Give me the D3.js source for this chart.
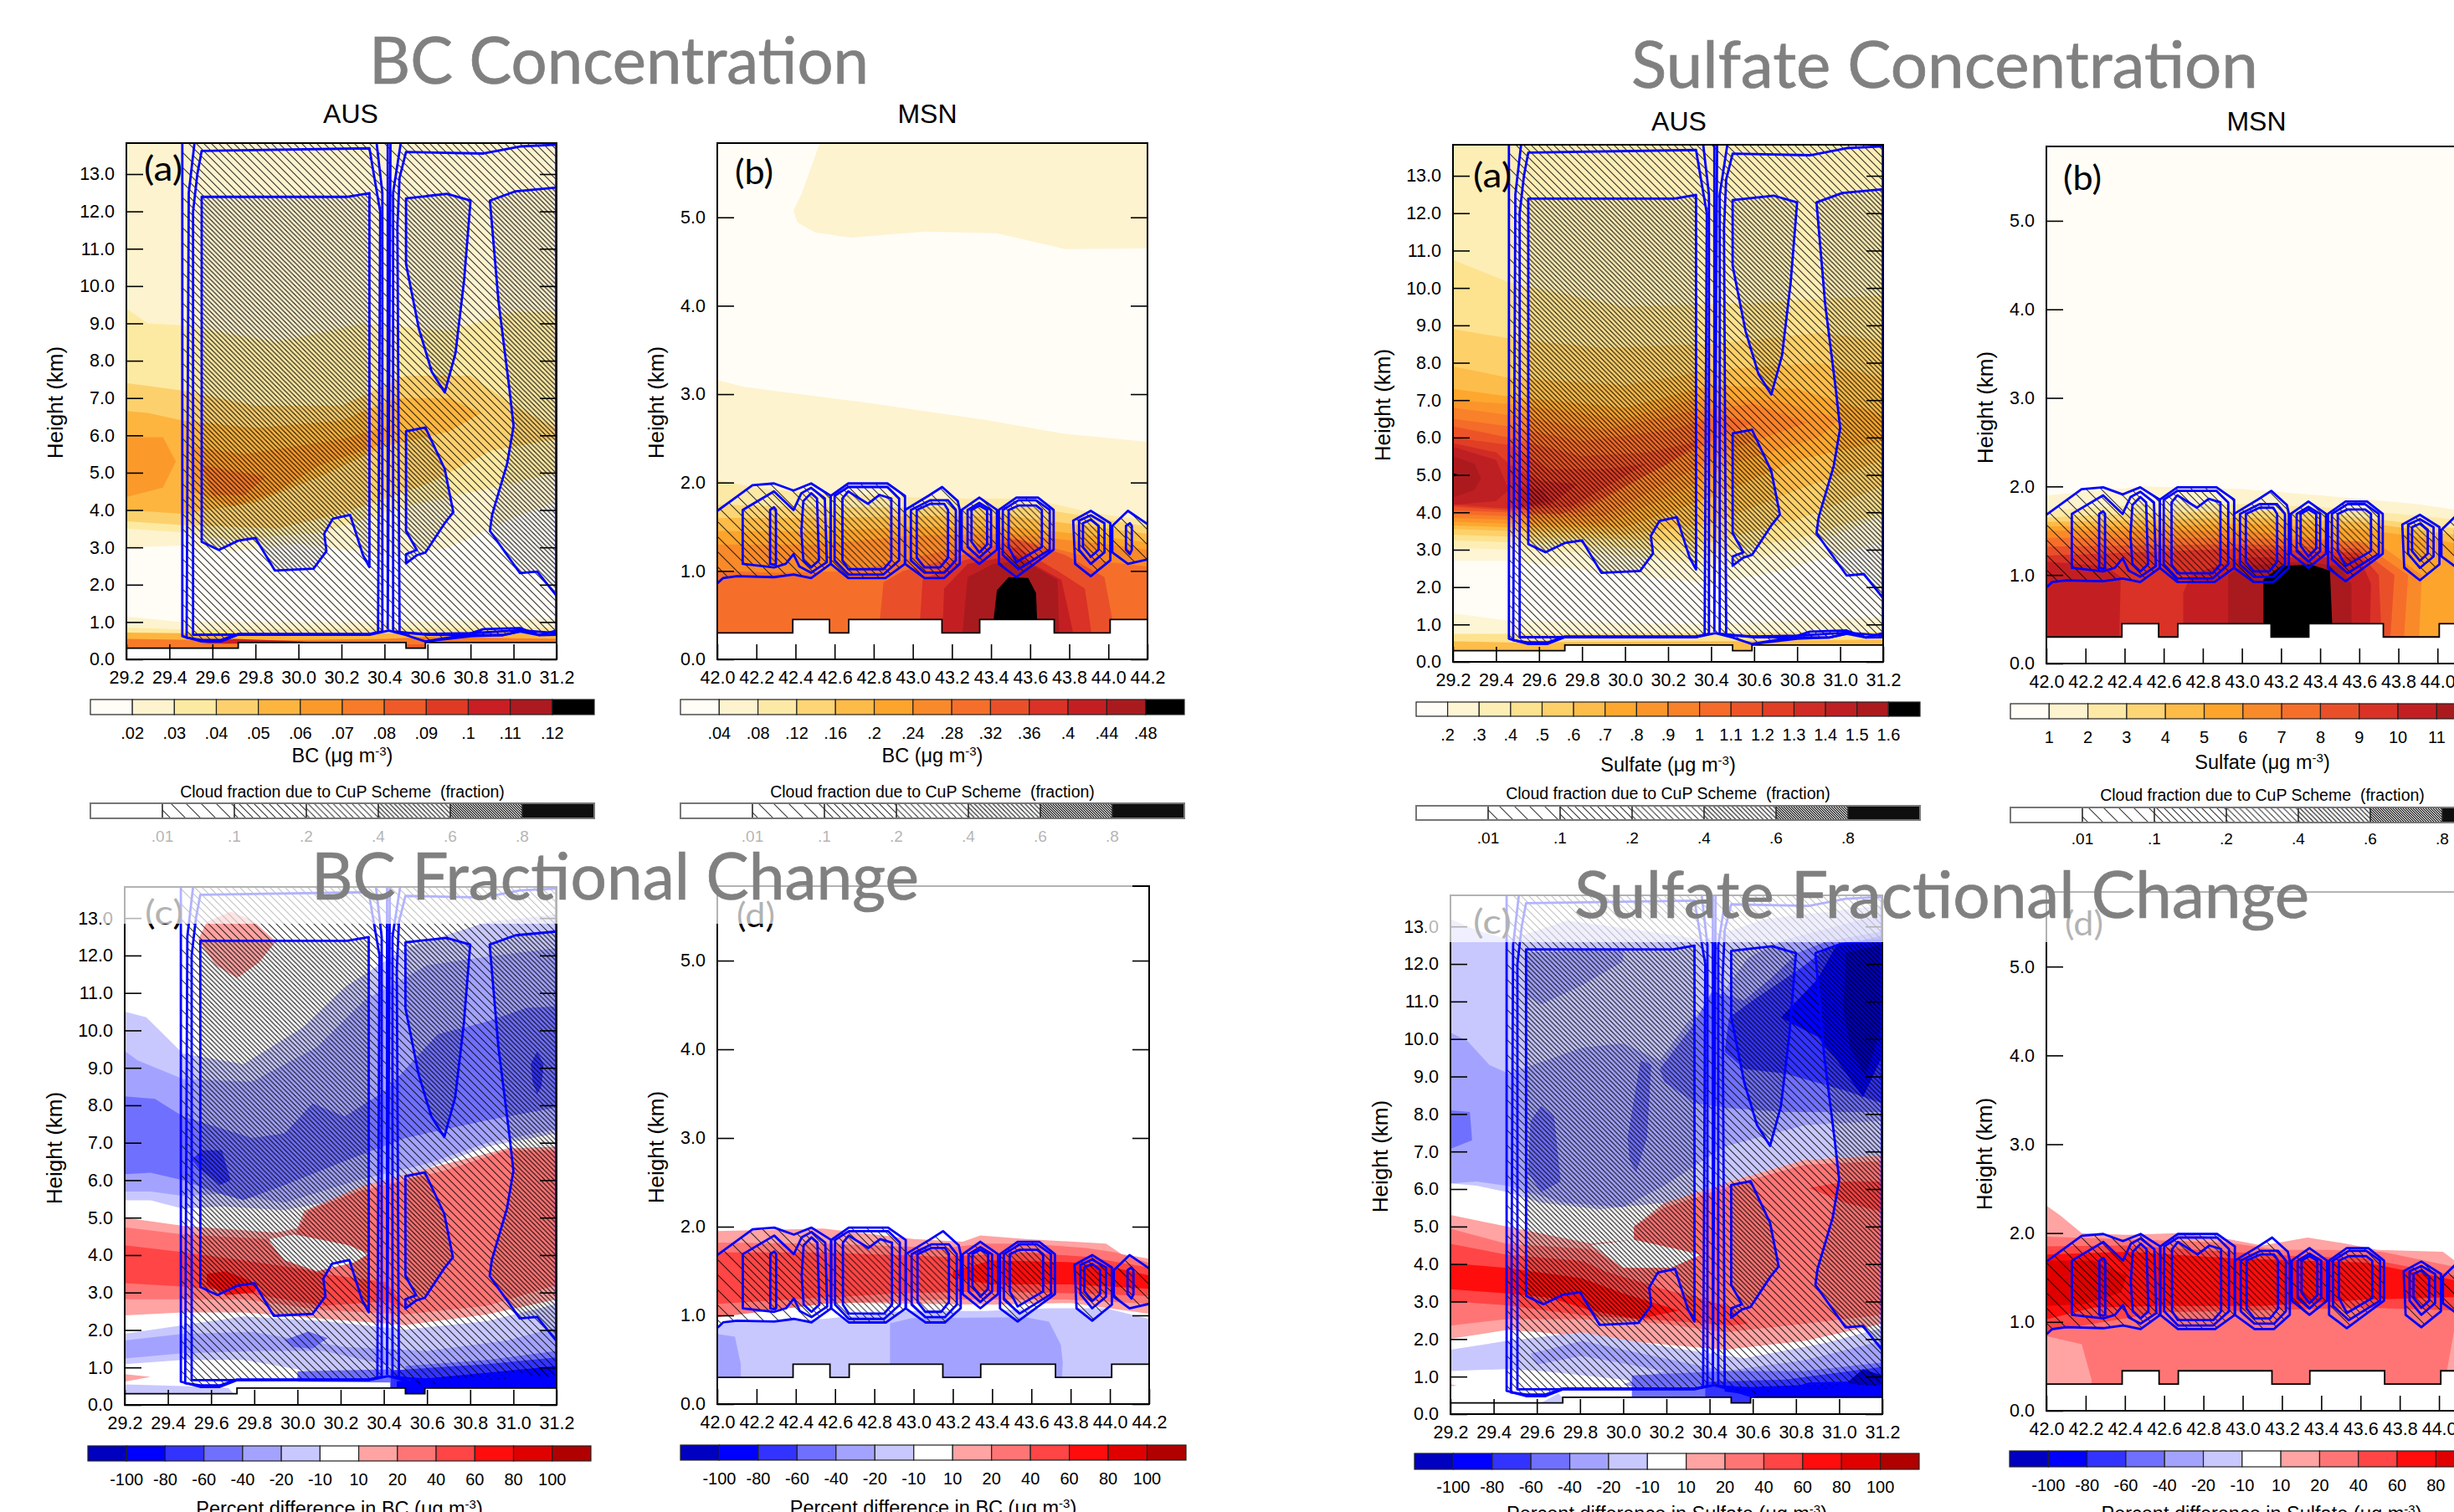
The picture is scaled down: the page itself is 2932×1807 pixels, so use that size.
<!DOCTYPE html>
<html>
<head>
<meta charset="utf-8">
<script src="https://d3js.org/d3.v7.min.js"></script>
<style>
  body { margin: 0; background: #fff; }
  text { font-family: "Liberation Sans", Arial, sans-serif; fill: #000; }
</style>
</head>
<body>
<script>
// tick values
const lonAus = [29.2, 29.4, 29.6, 29.8, 30.0, 30.2, 30.4, 30.6, 30.8, 31.0, 31.2];
const lonMsn = [42.0, 42.2, 42.4, 42.6, 42.8, 43.0, 43.2, 43.4, 43.6, 43.8, 44.0, 44.2];
const kmAus = [0, 1, 2, 3, 4, 5, 6, 7, 8, 9, 10, 11, 12, 13];
const kmMsn = [0, 1, 2, 3, 4, 5];

// colour bar labels
const bcAusLabels = [".02", ".03", ".04", ".05", ".06", ".07", ".08", ".09", ".1", ".11", ".12"];
const bcMsnLabels = [".04", ".08", ".12", ".16", ".2", ".24", ".28", ".32", ".36", ".4", ".44", ".48"];
const suAusLabels = [".2", ".3", ".4", ".5", ".6", ".7", ".8", ".9", "1", "1.1", "1.2", "1.3", "1.4", "1.5", "1.6"];
const suMsnLabels = ["1", "2", "3", "4", "5", "6", "7", "8", "9", "10", "11", "12"];
const pctLabels = ["-100", "-80", "-60", "-40", "-20", "-10", "10", "20", "40", "60", "80", "100"];
const cloudLabels = [".01", ".1", ".2", ".4", ".6", ".8"];

// colours
const seq12 = ["#fffdf6", "#fef3cf", "#fdeaa2", "#fdd06e", "#fdb53f", "#fb9a2b", "#f77b28", "#f05a28", "#df3a24", "#c91e23", "#ac1920", "#000000"];
const seq13 = ["#fffdf6", "#fef3cf", "#fde9a6", "#fdd575", "#fdbb48", "#fda42c", "#f98a2a", "#f66f2a", "#e9502a", "#da3226", "#c31f23", "#a91a1e", "#000000"];
const seq16 = ["#fffdf6", "#fef5d5", "#fdeeb6", "#fde28f", "#fdd069", "#fdbd4a", "#fda72e", "#fb952b", "#f98129", "#f56b29", "#ec5428", "#e03e25", "#d02b24", "#be1f23", "#ac1a1e", "#000000"];
const div13 = ["#0000c0", "#0000ff", "#3333ff", "#7070ff", "#a3a3ff", "#c8c8ff", "#ffffff", "#ffa3a3", "#ff7575", "#ff4545", "#ff0d0d", "#e00000", "#b00000"];
const hatchGaps = [0, 18, 9, 7.5, 5.5, 3, 2];

// terrain steps (lon, km)
const terrainAus = [[29.2,.3],[29.72,.3],[29.72,.45],[30.5,.45],[30.5,.3],[30.59,.3],[30.59,.45],[31.2,.45]];
const terrainMsn = [[42,.3],[42.386,.3],[42.386,.45],[42.574,.45],[42.574,.3],[42.672,.3],[42.672,.45],[43.149,.45],[43.149,.3],[43.342,.3],[43.342,.45],[43.723,.45],[43.723,.3],[44.009,.3],[44.009,.45],[44.2,.45]];

// cloud fraction contours, AUS section (lon, km)
const ausOuter = [[29.46,14],[29.46,.62],[29.55,.48],[29.64,.48],[29.72,.66],[30.33,.66],[30.42,.77],[30.5,.65],[30.59,.48],[30.78,.66],[30.86,.81],[31.03,.84],[31.12,.65],[31.2,.77],[31.2,14]];
const ausL2 = [[29.52,14],[29.49,12.5],[29.48,.58],[29.55,.52],[29.64,.52],[29.72,.68],[30.33,.68],[30.39,.75],[30.39,12.5],[30.36,14]];
const ausR2 = [[30.48,14],[30.44,12.5],[30.44,.75],[30.6,.66],[30.95,.65],[31.03,.75],[31.12,.65],[31.2,.66],[31.2,14]];
const ausBoxL = [[29.55,13.62],[29.53,13],[29.51,12],[29.51,.66],[30.33,.67],[30.37,.72],[30.38,12],[30.35,13],[30.33,13.69]];
const ausBoxR = [[30.5,13.59],[30.47,12.9],[30.46,11.6],[30.47,.72],[30.6,.68],[30.8,.7],[31.03,.78],[31.2,.7],[31.2,13.79],[31.03,13.74],[30.86,13.55]];
const ausInner = [[29.55,12.39],[30.23,12.39],[30.33,12.49],[30.33,2.47],[30.3,2.79],[30.24,3.87],[30.16,3.77],[30.12,3.37],[30.13,2.9],[30.07,2.43],[29.89,2.38],[29.8,3.25],[29.72,3.18],[29.63,2.93],[29.55,3.15]];
const ausLobeTop = [[30.5,12.35],[30.69,12.47],[30.8,12.29],[30.77,10.15],[30.73,8.2],[30.68,7.15],[30.62,7.7],[30.56,8.85],[30.5,10.59]];
const ausLobeLow = [[30.5,6.11],[30.59,6.21],[30.68,5.1],[30.72,3.94],[30.68,3.65],[30.59,2.86],[30.55,2.79],[30.5,2.57],[30.5,2.82],[30.55,2.93],[30.5,3.44]];
const ausInnerR = [[30.89,12.29],[31.01,12.54],[31.2,12.64],[31.2,1.7],[31.11,2.35],[31.03,2.31],[30.89,3.44],[30.9,3.87],[30.97,5.24],[31,6.25],[30.98,7.27],[30.93,9.58]];
const ausSpike = [[30.415,14],[30.415,.8],[30.428,14]];
const ausLow = [[30.59,.48],[30.8,.62],[30.95,.65],[31.03,.75]];

// cloud fraction contours, MSN section (lon, km)
const c1Out = [[42,1.68],[42.18,1.97],[42.29,1.99],[42.39,1.91],[42.48,1.99],[42.58,1.85],[42.58,1.08],[42.48,.92],[42.39,.96],[42.29,.93],[42.1,.94],[42.03,.92],[42,.86],[41.9,.86],[41.9,1.68]];
const c1Mid = [[42.13,1.69],[42.29,1.9],[42.39,1.69],[42.43,1.88],[42.48,1.94],[42.55,1.82],[42.56,1.1],[42.48,.98],[42.42,1.05],[42.39,1.19],[42.35,1.08],[42.29,1.04],[42.13,1.08]];
const c1Lobe = [[42.44,1.79],[42.48,1.88],[42.51,1.82],[42.52,1.12],[42.48,1.04],[42.44,1.12],[42.43,1.45]];
const c1Small = [[42.27,1.69],[42.29,1.72],[42.3,1.69],[42.3,1.08],[42.29,1.07],[42.27,1.08]];
const c2Out = [[42.58,1.85],[42.67,1.99],[42.87,1.99],[42.96,1.85],[42.96,1.08],[42.86,.92],[42.67,.92],[42.58,1.08]];
const c2Mid = [[42.6,1.85],[42.67,1.95],[42.87,1.95],[42.93,1.82],[42.93,1.12],[42.85,.96],[42.67,.96],[42.6,1.12]];
const c2In = [[42.64,1.82],[42.67,1.9],[42.77,1.76],[42.83,1.86],[42.89,1.82],[42.89,1.12],[42.85,1.02],[42.67,1.02],[42.64,1.12]];
const c3Out = [[42.96,1.69],[43.08,1.85],[43.15,1.95],[43.23,1.79],[43.24,1.69],[43.24,1.08],[43.16,.92],[43.06,.92],[42.96,1.08]];
const c3Mid = [[42.99,1.69],[43.09,1.8],[43.18,1.8],[43.22,1.69],[43.22,1.12],[43.16,.98],[43.06,.98],[42.99,1.12]];
const c3In = [[43.02,1.69],[43.09,1.76],[43.16,1.76],[43.18,1.69],[43.18,1.15],[43.14,1.04],[43.06,1.04],[43.02,1.15]];
const c4Out = [[43.25,1.69],[43.34,1.83],[43.43,1.69],[43.43,1.24],[43.34,1.08],[43.25,1.24]];
const c4Mid = [[43.28,1.69],[43.34,1.77],[43.4,1.69],[43.4,1.27],[43.34,1.15],[43.28,1.27]];
const c4In = [[43.3,1.69],[43.34,1.74],[43.38,1.69],[43.38,1.3],[43.34,1.21],[43.3,1.33]];
const c5Out = [[43.44,1.69],[43.53,1.83],[43.64,1.83],[43.72,1.69],[43.72,1.24],[43.53,.93],[43.44,1.08]];
const c5Mid = [[43.46,1.69],[43.54,1.8],[43.63,1.8],[43.7,1.69],[43.7,1.24],[43.54,1.02],[43.46,1.18]];
const c5In = [[43.49,1.69],[43.54,1.74],[43.63,1.74],[43.66,1.69],[43.66,1.27],[43.53,1.1],[43.49,1.27]];
const c6Out = [[43.82,1.57],[43.91,1.68],[44.01,1.54],[44.01,1.12],[43.91,.94],[43.83,1.08]];
const c6Mid = [[43.85,1.57],[43.91,1.63],[43.98,1.54],[43.98,1.21],[43.91,1.08],[43.85,1.24]];
const c6In = [[43.87,1.54],[43.91,1.58],[43.95,1.51],[43.95,1.24],[43.91,1.16],[43.87,1.27]];
const c7Out = [[44.02,1.51],[44.1,1.68],[44.2,1.53],[44.3,1.5],[44.3,1.1],[44.2,1.13],[44.1,1.08],[44.02,1.21]];
const c7Small = [[44.09,1.51],[44.11,1.54],[44.12,1.51],[44.12,1.24],[44.11,1.19],[44.09,1.24]];

// filled contours, [colour bin, polygon in (lon, km)]
const bcAusFill = [
  [1, [[29.2,0],[31.2,0],[31.2,14],[29.2,14]]],
  [0, [[29.2,3],[29.46,3.05],[29.7,2.9],[30,3.1],[30.4,2.8],[30.7,3],[31,3.8],[31.2,4.2],[31.2,1.1],[30.5,1],[29.46,1],[29.2,1.15]]],
  [2, [[29.2,9.4],[29.3,9],[29.46,8.95],[29.9,8.5],[30.3,9],[30.7,8.8],[31,9.3],[31.2,9.3],[31.2,5],[30.9,4.6],[30.5,4.1],[30.1,3.4],[29.7,3.2],[29.46,3.4],[29.2,3.5]]],
  [3, [[29.2,7.4],[29.46,7.2],[29.8,6.8],[30.2,6.8],[30.5,7.6],[30.8,7.6],[31,6.8],[31.2,6.2],[31.2,5.9],[30.9,5.6],[30.6,4.7],[30.2,3.9],[29.9,3.5],[29.46,3.6],[29.2,3.7]]],
  [4, [[29.2,6.65],[29.3,6.6],[29.46,6.4],[29.8,6.2],[30.2,6.4],[30.45,7],[30.7,7],[30.85,6.6],[30.7,6.1],[30.4,5.7],[30.1,4.9],[29.8,4.2],[29.46,3.9],[29.2,4]]],
  [5, [[29.2,5.95],[29.37,5.95],[29.43,5.3],[29.37,4.6],[29.2,4.35]]],
  [5, [[29.5,5.7],[29.75,5.5],[30.2,5.9],[30.45,6.3],[30.4,5.8],[30.1,5.2],[29.9,4.5],[29.7,4.1],[29.5,4.5]]],
  [6, [[29.55,5.2],[29.75,5],[29.85,4.9],[29.75,4.4],[29.6,4.4]]],
  [1, [[29.2,1.05],[29.46,1],[31.2,.95],[31.2,0],[29.2,0]]],
  [2, [[29.2,.85],[29.46,.8],[31.2,.85],[31.2,0],[29.2,0]]],
  [4, [[29.2,.72],[29.46,.7],[30.4,.7],[31.2,.75],[31.2,0],[29.2,0]]],
  [6, [[29.2,.55],[29.5,.52],[29.7,.5],[30.4,.55],[30.6,.6],[31.2,.55],[31.2,0],[29.2,0]]],
  [9, [[29.55,.42],[29.7,.55],[29.95,.5],[30.2,.42]]],
  [7, [[30.5,.4],[30.59,.4],[30.59,.2],[30.5,.2]]]
];
const bcMsnFill = [
  [0, [[42,0],[44.2,0],[44.2,6],[42,6]]],
  [1, [[42.55,6],[42.43,5.26],[42.39,5.08],[42.41,4.94],[42.5,4.83],[42.68,4.77],[43.06,4.84],[43.43,4.82],[43.78,4.64],[44.2,4.65],[44.2,6]]],
  [1, [[42,3.16],[42.14,3.08],[42.74,2.91],[43.37,2.71],[43.78,2.55],[44.2,2.46],[44.2,0],[42,0]]],
  [2, [[42,2.03],[42.2,1.94],[42.5,1.88],[43.16,1.82],[43.6,1.82],[43.91,1.66],[44.2,1.57],[44.2,0],[42,0]]],
  [3, [[42,1.75],[42.5,1.72],[43,1.72],[43.6,1.72],[44,1.58],[44.2,1.5],[44.2,0],[42,0]]],
  [4, [[42,1.6],[42.5,1.6],[43,1.62],[43.5,1.62],[44,1.48],[44.2,1.42],[44.2,0],[42,0]]],
  [5, [[42,1.45],[42.5,1.45],[43,1.5],[43.5,1.5],[44,1.38],[44.2,1.32],[44.2,0],[42,0]]],
  [6, [[42,1.3],[42.5,1.3],[43,1.4],[43.5,1.42],[44,1.3],[44.2,1.24],[44.2,0],[42,0]]],
  [7, [[42,1],[42.3,.98],[42.7,1],[43,1.15],[43.5,1.38],[44,1.1],[44.2,1.05],[44.2,0],[42,0]]],
  [8, [[42.82,.2],[42.85,.87],[42.95,1],[43.16,1.12],[43.53,1.36],[43.78,1.18],[43.98,.93],[44.02,.46],[44.02,.2]]],
  [9, [[43.03,.2],[43.05,.9],[43.26,1.12],[43.53,1.27],[43.74,1],[43.88,.8],[43.92,.2]]],
  [10, [[43.15,.2],[43.16,.8],[43.28,1.08],[43.53,1.18],[43.76,.9],[43.83,.2]]],
  [11, [[43.25,.2],[43.28,.93],[43.41,1.08],[43.57,1.12],[43.74,.9],[43.75,.2]]],
  [12, [[43.4,.2],[43.43,.78],[43.49,.93],[43.59,.92],[43.63,.75],[43.64,.2]]]
];
const suAusFill = [
  [2, [[29.2,0],[31.2,0],[31.2,14],[29.2,14]]],
  [1, [[29.2,3.05],[29.46,3],[29.9,2.9],[30.4,2.6],[30.8,3],[31.2,3.9],[31.2,1],[30.4,.85],[29.46,.9],[29.2,1.05]]],
  [0, [[29.2,2.7],[29.46,2.7],[29.9,2.4],[30.4,2.1],[30.7,2.4],[31,2.9],[31.2,3.2],[31.2,1.2],[30.4,1],[29.46,1.1],[29.2,1.3]]],
  [3, [[29.2,10.75],[29.46,10.15],[30,9.5],[30.6,9.6],[31.2,9.8],[31.2,4],[30.8,3.3],[30.4,2.9],[29.9,3.1],[29.46,3.2],[29.2,3.25]]],
  [4, [[29.2,8.9],[29.46,8.65],[29.9,8.4],[30.4,8.5],[30.9,8.8],[31.2,8.6],[31.2,4.7],[30.8,3.8],[30.4,3.2],[29.9,3.3],[29.46,3.35],[29.2,3.4]]],
  [5, [[29.2,7.9],[29.46,7.6],[30,7.4],[30.4,7.8],[30.9,8],[31.2,7.6],[31.2,5.4],[30.8,4.6],[30.4,3.7],[30,3.4],[29.46,3.5],[29.2,3.55]]],
  [6, [[29.2,7.3],[29.46,7.1],[30,6.8],[30.4,7.4],[30.8,7.3],[31.2,6.6],[31.2,5.9],[30.8,5.4],[30.4,4.4],[30,3.6],[29.46,3.6],[29.2,3.65]]],
  [7, [[29.2,7],[29.46,6.9],[30,6.5],[30.3,7],[30.7,7],[31,6.5],[30.9,6],[30.5,5.3],[30.2,4.4],[29.9,3.7],[29.46,3.7],[29.2,3.75]]],
  [8, [[29.2,6.8],[29.46,6.6],[29.9,6.2],[30.3,6.7],[30.6,6.9],[30.85,6.4],[30.5,5.7],[30.2,4.8],[29.9,3.9],[29.46,3.8],[29.2,3.85]]],
  [9, [[29.2,6.5],[29.46,6.3],[29.8,5.9],[30.2,6.2],[30.45,6.6],[30.6,6.4],[30.4,5.9],[30.1,5],[29.8,4],[29.46,3.9],[29.2,3.95]]],
  [10, [[29.2,6.3],[29.46,6],[29.8,5.5],[30.1,5.6],[30.35,5.9],[30.2,5.3],[29.9,4.4],[29.7,3.95],[29.46,4],[29.2,4.05]]],
  [11, [[29.2,6],[29.46,5.8],[29.65,5.15],[29.9,5.15],[30.1,5.3],[29.95,4.8],[29.75,4.15],[29.46,4.05],[29.2,4.15]]],
  [12, [[29.2,5.85],[29.4,5.6],[29.46,5.3],[29.6,4.85],[29.78,4.75],[29.65,4.2],[29.46,4.1],[29.2,4.2]]],
  [13, [[29.2,5.75],[29.4,5.4],[29.46,4.6],[29.4,4.3],[29.2,4.2]]],
  [13, [[29.5,4.7],[29.62,4.6],[29.65,4.3],[29.5,4.1]]],
  [14, [[29.2,5.5],[29.3,5.3],[29.33,4.9],[29.3,4.6],[29.2,4.4]]],
  [15, [[29.2,5.05],[29.225,5],[29.2,4.95]]],
  [1, [[29.2,1.05],[29.46,1],[31.2,.95],[31.2,0],[29.2,0]]],
  [3, [[29.2,.75],[29.46,.75],[31.2,.8],[31.2,0],[29.2,0]]],
  [5, [[29.2,.55],[29.46,.52],[30.4,.55],[31.2,.6],[31.2,0],[29.2,0]]]
];
const suMsnFill = [
  [0, [[42,0],[44.2,0],[44.2,6],[42,6]]],
  [1, [[42,1.9],[42.5,2],[43,1.97],[43.4,1.9],[43.9,1.8],[44.2,1.7],[44.2,0],[42,0]]],
  [2, [[42,1.73],[42.5,1.8],[43,1.8],[43.4,1.77],[44,1.65],[44.2,1.6],[44.2,0],[42,0]]],
  [3, [[42,1.65],[42.5,1.7],[43,1.72],[43.4,1.7],[44,1.55],[44.2,1.5],[44.2,0],[42,0]]],
  [4, [[42,1.6],[42.5,1.62],[43,1.65],[43.6,1.6],[44,1.48],[44.2,1.42],[44.2,0],[42,0]]],
  [5, [[42,1.55],[42.5,1.55],[43,1.58],[43.6,1.52],[44,1.4],[44.2,1.3],[44.2,0],[42,0]]],
  [6, [[42,1.5],[42.5,1.5],[43,1.5],[43.7,1.35],[43.92,1],[43.9,0],[42,0]]],
  [7, [[42,1.42],[43,1.42],[43.6,1.38],[43.85,1],[43.82,0],[42,0]]],
  [8, [[42,1.32],[43,1.35],[43.6,1.3],[43.78,1],[43.75,0],[42,0]]],
  [9, [[42,1.22],[43,1.3],[43.6,1.25],[43.7,1],[43.72,0],[42,0]]],
  [10, [[42,1.15],[42.3,1.1],[42.38,.98],[42.37,0],[42,0]]],
  [10, [[42.7,0],[42.7,.8],[42.74,1],[43,1.2],[43.6,1.2],[43.66,.9],[43.65,0]]],
  [11, [[42.93,0],[42.93,1],[43,1.1],[43.3,1.15],[43.5,1.1],[43.56,.9],[43.56,0]]],
  [12, [[43.11,0],[43.11,.95],[43.2,1.1],[43.35,1.12],[43.45,1.05],[43.47,0]]]
];
const bcAusPct = [
  [5, [[29.2,10.5],[29.3,10.35],[29.47,9.38],[29.75,9.1],[30.03,10.1],[30.22,11.16],[30.5,12.2],[30.88,12.9],[31.2,13.1],[31.2,7.25],[30.88,6.9],[30.5,6.1],[30.22,5.5],[29.94,5.2],[29.65,5.3],[29.47,5.24],[29.32,5.46],[29.2,5.46]]],
  [4, [[29.2,9.45],[29.26,9.2],[29.47,8.7],[29.79,8.63],[30.09,9.55],[30.31,10.8],[30.6,11.74],[30.88,11.97],[31.2,12.2],[31.2,7.36],[30.88,7],[30.6,6.44],[30.27,5.98],[29.94,5.4],[29.67,5.64],[29.47,5.58],[29.32,5.7],[29.2,5.7]]],
  [3, [[29.2,8.24],[29.34,8.17],[29.47,7.7],[29.79,7.13],[29.94,7.25],[30.07,8.05],[30.22,7.7],[30.41,8.4],[30.65,9.9],[30.88,10.24],[31.06,10.6],[31.2,10.64],[31.2,7.94],[30.88,7.6],[30.5,7.13],[30.24,6.56],[29.94,5.87],[29.75,5.47],[29.64,5.64],[29.47,6],[29.32,6.2],[29.2,6.16]]],
  [2, [[29.51,6.56],[29.56,6.8],[29.65,6.8],[29.69,6],[29.64,5.87],[29.54,6.33]]],
  [2, [[31.08,9.1],[31.11,9.44],[31.14,9.1],[31.13,8.5],[31.11,8.3],[31.09,8.6]]],
  [7, [[29.54,12.43],[29.58,12.9],[29.69,13.17],[29.79,12.95],[29.9,12.37],[29.82,11.8],[29.72,11.4],[29.62,11.74]]],
  [7, [[29.2,5],[29.47,4.78],[29.9,4.6],[30,4.72],[30.03,5.18],[30.31,5.87],[30.69,6.44],[30.97,6.85],[31.2,6.9],[31.2,2.82],[30.88,2.42],[30.5,2.13],[30.12,2.3],[29.75,2.47],[29.47,2.47],[29.2,2.39]]],
  [6, [[29.87,4.43],[29.99,4.55],[30.24,4.26],[30.33,4.03],[30.26,3.8],[30.09,3.57],[29.94,3.86],[29.88,4.14]]],
  [8, [[29.2,4.74],[29.47,4.55],[29.86,4.43],[29.94,3.86],[30.09,3.57],[30.26,3.8],[30.33,4.03],[30.24,4.26],[29.99,4.55],[30.05,5.18],[30.28,5.7],[30.69,6.27],[30.97,6.8],[31.2,6.8],[31.2,3.2],[30.88,2.65],[30.5,2.42],[30.12,2.53],[29.75,2.82],[29.47,2.82],[29.2,2.82]]],
  [9, [[29.2,4.26],[29.47,4.08],[29.75,3.86],[30.03,3.62],[30.12,3.5],[30.41,3.28],[30.5,2.6],[30.41,2.76],[30.12,2.65],[29.75,3],[29.47,3.16],[29.2,3.25]]],
  [10, [[29.58,3.5],[29.67,3.57],[29.82,3.22],[29.8,3],[29.67,2.93],[29.58,3.22]]],
  [5, [[29.2,1.9],[29.47,2.13],[29.75,2.36],[30.12,2.24],[30.5,2.01],[30.88,2.24],[31.2,2.7],[31.2,.3],[30.5,.69],[30.03,.92],[29.75,1.2],[29.47,1.2],[29.2,1.09]]],
  [4, [[29.2,1.72],[29.47,1.9],[29.79,1.95],[30.22,1.55],[30.6,1.44],[30.97,1.72],[31.2,2.07],[31.2,.5],[30.7,.7],[30.12,1.44],[29.84,1.44],[29.47,1.38],[29.2,1.24]]],
  [3, [[29.94,1.73],[30.05,1.96],[30.14,1.78],[30.07,1.5],[29.98,1.55]]],
  [3, [[30.5,1.04],[30.88,1.2],[31.2,1.44],[31.2,0],[30.5,0]]],
  [3, [[30,.9],[30.43,.95],[30.43,.6],[30,.62]]],
  [2, [[30.43,.92],[30.88,1.09],[31.2,1.27],[31.2,0],[30.43,0]]],
  [1, [[30.46,.63],[30.88,.86],[31.2,1.04],[31.2,0],[30.46,0]]],
  [7, [[29.2,.82],[29.32,.75],[29.2,.62]]],
  [5, [[29.2,.55],[29.47,.5],[29.68,.45],[29.72,.2],[29.2,.2]]]
];
const bcMsnPct = [
  [7, [[42,1.95],[42.54,1.98],[43,1.86],[43.25,1.83],[43.34,1.9],[43.57,1.86],[43.98,1.81],[44.06,1.69],[44.2,1.64],[44.2,1.02],[43.8,1.14],[43.4,1.12],[43,1.13],[42.5,1.15],[42,1]]],
  [8, [[42,1.82],[42.54,1.81],[43.16,1.76],[43.36,1.81],[43.57,1.81],[43.88,1.76],[44.03,1.71],[44.2,1.59],[44.2,1.13],[43.78,1.18],[43.16,1.18],[42.54,1.13],[42,.98]]],
  [9, [[42,1.71],[42.54,1.71],[43.16,1.66],[43.57,1.71],[43.88,1.66],[44.2,1.54],[44.2,1.22],[43.78,1.25],[43.36,1.27],[42.95,1.25],[42.54,1.2],[42,1.13]]],
  [10, [[43.2,1.5],[43.4,1.62],[43.8,1.6],[44,1.55],[44.2,1.45],[44.2,1.3],[43.8,1.35],[43.4,1.35],[43.2,1.42]]],
  [5, [[42,.88],[42.08,.93],[42.54,.96],[42.95,1.05],[43.36,1.05],[43.69,1.08],[43.98,1.08],[44.2,.96],[44.2,0],[42,0]]],
  [4, [[42,.79],[42.09,.76],[42.12,.45],[42.12,0],[42,0]]],
  [4, [[42.88,.91],[42.99,.97],[43.57,.98],[43.69,.93],[43.75,.67],[43.76,.47],[43.75,0],[42.88,0]]]
];
const suAusPct = [
  [5, [[29.2,13.2],[29.32,12.9],[29.47,12.65],[29.59,12.87],[29.74,13.16],[30.11,12.87],[30.37,12.65],[30.66,13.2],[31.03,13.45],[31.2,13.56],[31.2,6.9],[30.84,6.78],[30.56,6.32],[30.19,5.63],[29.89,5.46],[29.62,5.63],[29.46,5.92],[29.32,6.09],[29.2,6.15]]],
  [4, [[29.2,10.17],[29.28,9.94],[29.38,9.31],[29.47,9.08],[29.81,9.77],[30,9.88],[30.17,9.43],[30.3,10.46],[30.45,11.15],[30.58,12.18],[30.75,12.65],[31.2,13.33],[31.2,7.82],[30.84,7.7],[30.47,7.13],[30.19,6.09],[30,5.52],[29.73,5.63],[29.46,6.09],[29.32,6.2],[29.2,6.15]]],
  [4, [[29.55,12.3],[30,12.4],[30,12.07],[29.81,11.44],[29.62,10.92],[29.55,11.15]]],
  [3, [[29.2,8.1],[29.29,8.05],[29.3,7.3],[29.2,7.07]]],
  [3, [[29.57,7.8],[29.62,8.22],[29.68,7.93],[29.71,6.2],[29.62,5.92],[29.56,6.44]]],
  [3, [[30.02,7.36],[30.08,9.43],[30.13,9.31],[30.11,7.36],[30.06,6.44],[30.03,6.78]]],
  [3, [[30.17,9.2],[30.32,10.34],[30.41,11.26],[30.56,11.03],[30.68,11.6],[30.81,12.3],[30.94,12.6],[31.2,12.87],[31.2,8.05],[30.75,8.05],[30.49,8.16],[30.34,8.28],[30.19,8.85]]],
  [2, [[30.47,9.66],[30.49,10.57],[30.6,11.03],[30.81,11.84],[30.94,12.4],[31.2,12.76],[31.2,8.28],[31.03,8.62],[30.75,9.08],[30.56,9.2]]],
  [1, [[30.73,10.57],[30.9,11.6],[30.99,12.53],[31.2,12.6],[31.2,9.54],[31.11,8.45],[30.99,9.43],[30.9,10.06]]],
  [0, [[31.03,12.3],[31.2,12.53],[31.2,10.34],[31.12,9.02],[31.05,9.77],[31.02,10.8]]],
  [7, [[29.2,5.31],[29.46,5],[29.85,4.55],[30.05,4.65],[30.05,5],[30.19,5.63],[30.56,6.32],[30.84,6.78],[31.2,6.9],[31.2,2.41],[30.84,1.95],[30.47,1.72],[30,1.95],[29.62,2.18],[29.46,2.24],[29.2,2.01]]],
  [6, [[29.85,4.5],[30.05,4.65],[30.25,4.4],[30.36,4.25],[30.22,3.9],[30,3.9],[29.89,4.37]]],
  [8, [[29.2,4.94],[29.46,4.54],[29.85,4.4],[30,3.9],[30.22,3.9],[30.36,4.25],[30.25,4.4],[30.05,4.65],[30.05,5],[30.19,5.5],[30.56,6.2],[30.84,6.65],[31.2,6.75],[31.2,2.65],[30.84,2.41],[30.47,2.18],[30.19,2.41],[29.81,2.53],[29.46,2.53],[29.2,2.36]]],
  [9, [[29.2,4.54],[29.46,4.25],[29.81,4.08],[29.92,3.8],[30.19,3.33],[30.49,2.87],[30.58,2.41],[30.49,2.36],[30.19,2.5],[29.81,2.64],[29.46,2.9],[29.2,3.01]]],
  [9, [[30.86,6.03],[31.03,6.2],[31.2,6.2],[31.2,5.4],[31.03,5.63]]],
  [10, [[29.2,4.02],[29.46,3.9],[29.81,3.62],[30,3.22],[30.26,2.76],[30.07,2.53],[29.85,2.76],[29.66,3.1],[29.46,3.22],[29.2,3.33]]],
  [5, [[29.2,1.72],[29.46,1.95],[29.81,2.18],[30.19,1.8],[30.56,1.49],[30.94,1.9],[31.2,2.3],[31.2,.3],[30.56,.3],[30,.92],[29.62,1.15],[29.46,1.2],[29.2,1.15]]],
  [4, [[29.57,1.61],[29.81,1.95],[30.19,1.49],[30.47,1.15],[30.84,1.44],[31.2,1.95],[31.2,.3],[30.3,.3],[30,.8],[30.19,1.15],[29.81,1.55],[29.6,1.32]]],
  [3, [[30.04,1.03],[30.47,1.15],[30.84,1.15],[31.2,1.38],[31.2,.3],[30.04,.3]]],
  [2, [[30.38,.86],[30.75,.92],[31.2,1.26],[31.2,.2],[30.38,.2]]],
  [1, [[30.47,.69],[31.2,.86],[31.2,.2],[30.6,.2],[30.6,.5],[30.47,.6]]],
  [0, [[31.03,.81],[31.11,1.2],[31.2,1.03],[31.2,.75]]],
  [7, [[29.2,.8],[29.23,.76],[29.2,.74]]],
  [5, [[29.62,.3],[29.7,.55],[29.74,.3]]]
];
const suMsnPct = [
  [7, [[42,2.31],[42.07,2.2],[42.18,2],[42.41,1.98],[42.67,2],[42.93,1.93],[43.1,1.86],[43.33,1.95],[43.53,1.88],[43.69,1.81],[44.02,1.79],[44.08,1.69],[44.2,1.6],[44.2,0],[42,0]]],
  [8, [[42,1.96],[42.41,1.93],[42.93,1.89],[43.19,1.81],[43.45,1.81],[43.71,1.79],[44.08,1.62],[44.2,1.5],[44.2,1],[44.08,.94],[44.04,.45],[44.04,0],[42.23,0],[42.23,.35],[42.18,.75],[42,.84]]],
  [9, [[42,1.85],[42.41,1.86],[42.93,1.79],[43.28,1.74],[43.62,1.72],[44.08,1.52],[44.2,1.42],[44.2,1.1],[44.08,1.13],[43.62,1.16],[43.1,1.13],[42.59,1.11],[42,.89]]],
  [10, [[42,1.76],[42.41,1.79],[42.93,1.72],[43.28,1.69],[43.62,1.67],[44.08,1.47],[44.2,1.4],[44.2,1.25],[44.08,1.28],[43.62,1.25],[43.1,1.18],[42.59,1.18],[42.24,1.16],[42,1.03]]],
  [11, [[42,1.69],[42.24,1.69],[42.41,1.52],[42.38,1.33],[42.2,1.2],[42,1.18]]]
];

// hatch bands: [gap index, polygons joined with evenodd]
const ausBands = [
  [1, [ausOuter, ausL2, ausR2]],
  [2, [ausL2, ausR2, ausInner, ausLobeTop, ausLobeLow, ausInnerR]],
  [4, [ausInner, ausLobeTop, ausLobeLow, ausInnerR]]
];
const msnOuters = [c1Out, c2Out, c3Out, c4Out, c5Out, c6Out, c7Out];
const msnMids = [c1Mid, c2Mid, c3Mid, c4Mid, c5Mid, c6Mid];
const msnInners = [c1Lobe, c1Small, c2In, c3In, c4In, c5In, c6In];
const msnBands = [
  [1, msnOuters.concat(msnMids, [c7Small])],
  [2, msnMids.concat(msnInners)],
  [3, msnInners.concat([c7Small])]
];
const ausLines = [ausOuter, ausL2, ausR2, ausBoxL, ausBoxR, ausInner, ausLobeTop, ausLobeLow, ausInnerR];
const ausOpen = [ausSpike, ausLow];
const msnLines = msnOuters.concat(msnMids, msnInners, [c7Small]);

let svg = d3.select("body").append("svg")
    .attr("width", 2932)
    .attr("height", 1807)
    .attr("viewBox", "0 0 2932 1807");
let defs = svg.append("defs");

// one diagonal hatch pattern per gap
const hatchWidths = [0, 1.05, 1.1, 1.1, 1.3, 1.05, 1.25];
hatchGaps.forEach(function (s, i) {
    if (i == 0) return;
    let p = defs.append("pattern")
        .attr("id", "hatch" + i)
        .attr("patternUnits", "userSpaceOnUse")
        .attr("width", s)
        .attr("height", s);
    p.append("path")
        .attr("d", "M0,0L" + s + "," + s + "M-1,"+ (s-1) + "L1," + (s+1) + "M" + (s-1) + ",-1L" + (s+1) + ",1")
        .attr("stroke", "#000")
        .attr("stroke-opacity", i < 5 ? 0.8 : 1)
        .attr("stroke-width", hatchWidths[i]);
});

function drawPanel(id, box, lons, kms, top, colors, fills, terrain, bands, lines, open, label, title, ylabel) {
    let x = d3.scaleLinear().domain([lons[0], lons[lons.length - 1]]).range([box.l, box.r]);
    let y = d3.scaleLinear().domain([0, top]).range([box.b, box.t]);
    let path = d3.line().x(d => x(d[0])).y(d => y(d[1]));
    let closed = d => path(d) + "Z";

    defs.append("clipPath").attr("id", "clip" + id)
        .append("rect")
        .attr("x", box.l).attr("y", box.t)
        .attr("width", box.r - box.l).attr("height", box.b - box.t);

    let g = svg.append("g").attr("clip-path", "url(#clip" + id + ")");

    g.selectAll("path.fill")
        .data(fills)
        .enter()
        .append("path")
            .attr("class", "fill")
            .attr("d", d => closed(d[1]))
            .attr("fill", d => colors[d[0]]);

    // ground: white under the step line
    let ground = [[lons[0], 0]].concat(terrain, [[lons[lons.length - 1], 0]]);
    g.append("path").attr("d", closed(ground)).attr("fill", "#fff");
    g.append("path").attr("d", path(terrain)).attr("fill", "none").attr("stroke", "#000").attr("stroke-width", 1.8);

    g.selectAll("path.band")
        .data(bands)
        .enter()
        .append("path")
            .attr("class", "band")
            .attr("d", d => d[1].map(closed).join(""))
            .attr("fill-rule", "evenodd")
            .attr("fill", d => "url(#hatch" + d[0] + ")");

    g.selectAll("path.cloud")
        .data(lines)
        .enter()
        .append("path")
            .attr("class", "cloud")
            .attr("d", closed)
            .attr("fill", "none")
            .attr("stroke", "#0000ff")
            .attr("stroke-width", 2.8)
            .attr("stroke-linejoin", "round");

    g.selectAll("path.open")
        .data(open)
        .enter()
        .append("path")
            .attr("class", "open")
            .attr("d", path)
            .attr("fill", "none")
            .attr("stroke", "#0000ff")
            .attr("stroke-width", 2.8);

    // axes, ticks point inward
    let fmt = d3.format(".1f");
    let left = svg.append("g").attr("transform", "translate(" + box.l + ",0)")
        .call(d3.axisLeft(y).tickValues(kms).tickFormat(fmt).tickSizeInner(-20).tickSizeOuter(0).tickPadding(14));
    let right = svg.append("g").attr("transform", "translate(" + box.r + ",0)")
        .call(d3.axisRight(y).tickValues(kms).tickFormat("").tickSizeInner(-20).tickSizeOuter(0));
    let bottom = svg.append("g").attr("transform", "translate(0," + box.b + ")")
        .call(d3.axisBottom(x).tickValues(lons).tickFormat(fmt).tickSizeInner(-18).tickSizeOuter(0).tickPadding(14));
    [left, right, bottom].forEach(function (a) {
        a.select(".domain").remove();
        a.selectAll("line").attr("stroke", "#000").attr("stroke-width", 1.6);
        a.selectAll("text").attr("font-size", 21.5).attr("font-family", "Liberation Sans");
    });

    svg.append("rect")
        .attr("x", box.l).attr("y", box.t)
        .attr("width", box.r - box.l).attr("height", box.b - box.t)
        .attr("fill", "none").attr("stroke", "#000").attr("stroke-width", 2);

    svg.append("text")
        .attr("x", label.x).attr("y", label.y)
        .attr("textLength", 46)
        .attr("lengthAdjust", "spacingAndGlyphs")
        .style("font-family", "Lato").attr("font-size", 40)
        .text(label.text);
    if (title) {
        svg.append("text")
            .attr("x", title.x).attr("y", title.y)
            .attr("text-anchor", "middle").attr("font-size", 32)
            .text(title.text);
    }
    svg.append("text")
        .attr("transform", "translate(" + ylabel.x + "," + ylabel.y + ") rotate(-90)")
        .attr("text-anchor", "middle").attr("font-size", 26)
        .text("Height (km)");
}

function drawColorBar(bar, colors, labels, name) {
    let n = colors.length;
    let x = d3.scaleLinear().domain([0, n]).range([bar.l, bar.r]);
    svg.selectAll(null)
        .data(colors)
        .enter()
        .append("rect")
            .attr("x", (d, i) => x(i))
            .attr("y", bar.t)
            .attr("width", x(1) - x(0))
            .attr("height", bar.b - bar.t)
            .attr("fill", d => d)
            .attr("stroke", "#222")
            .attr("stroke-width", 1.2);
    svg.selectAll(null)
        .data(labels)
        .enter()
        .append("text")
            .attr("x", (d, i) => x(i + 1))
            .attr("y", bar.ly)
            .attr("text-anchor", "middle")
            .attr("font-size", 20)
            .text(d => d);
    let t = svg.append("text")
        .attr("x", (bar.l + bar.r) / 2)
        .attr("y", bar.ty)
        .attr("text-anchor", "middle")
        .attr("font-size", 23.5);
    t.append("tspan").text(name + " (\u03bcg m");
    t.append("tspan").attr("dy", -8).attr("font-size", 15).text("-3");
    t.append("tspan").attr("dy", 8).text(")");
}

function drawCloudBar(bar) {
    let x = d3.scaleLinear().domain([0, 7]).range([bar.l, bar.r]);
    svg.selectAll(null)
        .data(hatchGaps)
        .enter()
        .append("rect")
            .attr("x", (d, i) => x(i))
            .attr("y", bar.t)
            .attr("width", x(1) - x(0))
            .attr("height", bar.b - bar.t)
            .attr("fill", (d, i) => i == 0 ? "#fff" : "url(#hatch" + i + ")")
            .attr("stroke", "#333")
            .attr("stroke-width", 1.2);
    svg.append("rect")
        .attr("x", bar.l).attr("y", bar.t)
        .attr("width", bar.r - bar.l).attr("height", bar.b - bar.t)
        .attr("fill", "none").attr("stroke", "#777").attr("stroke-width", 2);
    svg.selectAll(null)
        .data(cloudLabels)
        .enter()
        .append("text")
            .attr("x", (d, i) => x(i + 1))
            .attr("y", bar.ly)
            .attr("text-anchor", "middle")
            .attr("font-size", 19)
            .text(d => d);
    svg.append("text")
        .attr("x", (bar.l + bar.r) / 2)
        .attr("y", bar.ty)
        .attr("text-anchor", "middle")
        .attr("font-size", 19.5)
        .style("white-space", "pre")
        .text("Cloud fraction due to CuP Scheme  (fraction)");
}

// BC
drawPanel("bcA", {l:151, r:665, t:171, b:788}, lonAus, kmAus, 13.83, seq12, bcAusFill, terrainAus, ausBands, ausLines, ausOpen,
    {text:"(a)", x:172, y:216}, {text:"AUS", x:419, y:147}, {x:75, y:481});
drawPanel("bcB", {l:857, r:1371, t:171, b:788}, lonMsn, kmMsn, 5.84, seq13, bcMsnFill, terrainMsn, msnBands, msnLines, [],
    {text:"(b)", x:878, y:220}, {text:"MSN", x:1108, y:147}, {x:793, y:481});
drawPanel("bcC", {l:149, r:665, t:1060, b:1679}, lonAus, kmAus, 13.83, div13, bcAusPct, terrainAus, ausBands, ausLines, ausOpen,
    {text:"(c)", x:173, y:1105}, null, {x:74, y:1372});
drawPanel("bcD", {l:857, r:1373, t:1059, b:1678}, lonMsn, kmMsn, 5.84, div13, bcMsnPct, terrainMsn, msnBands, msnLines, [],
    {text:"(d)", x:880, y:1108}, null, {x:793, y:1371});

// Sulfate
drawPanel("suA", {l:1736, r:2250, t:173, b:791}, lonAus, kmAus, 13.83, seq16, suAusFill, terrainAus, ausBands, ausLines, ausOpen,
    {text:"(a)", x:1760, y:224}, {text:"AUS", x:2006, y:156}, {x:1661, y:484});
drawPanel("suB", {l:2445, r:2959, t:175, b:793}, lonMsn, kmMsn, 5.84, seq13, suMsnFill, terrainMsn, msnBands, msnLines, [],
    {text:"(b)", x:2465, y:227}, {text:"MSN", x:2696, y:156}, {x:2381, y:487});
drawPanel("suC", {l:1733, r:2249, t:1070, b:1690}, lonAus, kmAus, 13.83, div13, suAusPct, terrainAus, ausBands, ausLines, ausOpen,
    {text:"(c)", x:1760, y:1116}, null, {x:1658, y:1382});
drawPanel("suD", {l:2445, r:2961, t:1066, b:1686}, lonMsn, kmMsn, 5.84, div13, suMsnPct, terrainMsn, msnBands, msnLines, [],
    {text:"(d)", x:2467, y:1118}, null, {x:2380, y:1379});

drawColorBar({l:108, r:710, t:836, b:854, ly:883, ty:911}, seq12, bcAusLabels, "BC");
drawColorBar({l:813, r:1415, t:836, b:854, ly:883, ty:911}, seq13, bcMsnLabels, "BC");
drawColorBar({l:1692, r:2294, t:839, b:856, ly:885, ty:922}, seq16, suAusLabels, "Sulfate");
drawColorBar({l:2402, r:3004, t:841, b:859, ly:888, ty:919}, seq13, suMsnLabels, "Sulfate");
drawColorBar({l:105, r:706, t:1728, b:1746, ly:1775, ty:1811}, div13, pctLabels, "Percent difference in BC");
drawColorBar({l:813, r:1417, t:1727, b:1745, ly:1774, ty:1810}, div13, pctLabels, "Percent difference in BC");
drawColorBar({l:1690, r:2293, t:1737, b:1756, ly:1784, ty:1817}, div13, pctLabels, "Percent difference in Sulfate");
drawColorBar({l:2401, r:3003, t:1734, b:1753, ly:1782, ty:1817}, div13, pctLabels, "Percent difference in Sulfate");

drawCloudBar({l:108, r:710, t:960, b:978, ly:1006, ty:953});
drawCloudBar({l:813, r:1415, t:960, b:978, ly:1006, ty:953});
drawCloudBar({l:1692, r:2294, t:963, b:980, ly:1008, ty:955});
drawCloudBar({l:2402, r:3004, t:965, b:983, ly:1009, ty:957});

// pasted title boxes wash out what lies under them
svg.append("rect").attr("x", 124).attr("y", 985).attr("width", 1229).attr("height", 119).attr("fill", "#fff").attr("opacity", 0.7);
svg.append("rect").attr("x", 1704).attr("y", 1050).attr("width", 1228).attr("height", 76).attr("fill", "#fff").attr("opacity", 0.7);

const titleText = ["BC Concentration", "BC Fractional Change", "Sulfate Concentration", "Sulfate Fractional Change"];
const titleX = [441, 372, 1949, 1881];
const titleY = [100, 1075, 105, 1097];
const titleW = [597, 726, 749, 878];
titleText.forEach(function (t, i) {
    svg.append("text")
        .attr("x", titleX[i]).attr("y", titleY[i])
        .attr("textLength", titleW[i])
        .attr("lengthAdjust", "spacingAndGlyphs")
        .style("font-family", "Lato")
        .style("fill", "#808080")
        .style("stroke", "#808080")
        .style("stroke-width", 0.7)
        .attr("font-size", 78)
        .text(t);
});
</script>
</body>
</html>
